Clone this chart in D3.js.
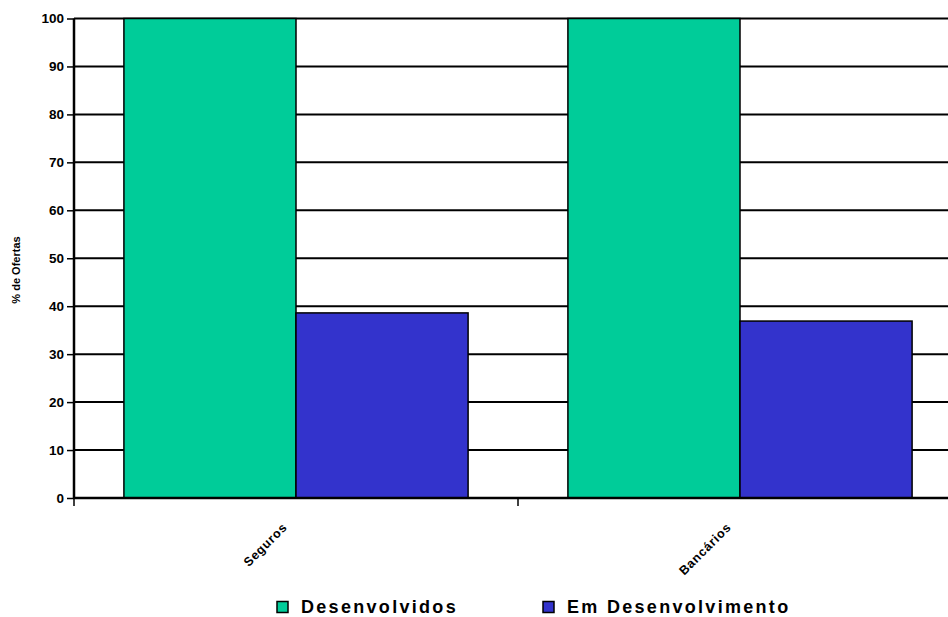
<!DOCTYPE html>
<html>
<head>
<meta charset="utf-8">
<script src="https://cdn.jsdelivr.net/npm/d3@7/dist/d3.min.js"></script>
<style>
  html, body { margin: 0; padding: 0; background: #fff; }
  svg { display: block; font-family: "Liberation Sans", Arial, sans-serif; }
</style>
</head>
<body>
<svg id="chart" width="948" height="617"></svg>
<script>
// Share of offers by sector, developed vs developing countries
const categories = ["Seguros", "Bancários"];
const seriesNames = ["Desenvolvidos", "Em Desenvolvimento"];
const desenvolvidos = [100, 100];
const emDesenvolvimento = [38.6, 36.9];
const yTicks = [0, 10, 20, 30, 40, 50, 60, 70, 80, 90, 100];
const colors = ["#00CC99", "#3333CC"];

const svg = d3.select("#chart");
const plot = { left: 74, right: 962, top: 18.5, bottom: 498 };

const x = d3.scaleBand().domain(categories).range([plot.left, plot.right]).padding(0);
const xs = d3.scaleBand().domain(seriesNames).range([0, x.bandwidth()])
  .paddingInner(0).paddingOuter(0.29);
const y = d3.scaleLinear().domain([0, 100]).range([plot.bottom, plot.top]);

// horizontal gridlines
svg.append("g").selectAll("line").data(yTicks.filter(d => d > 0)).join("line")
  .attr("x1", plot.left).attr("x2", plot.right)
  .attr("y1", d => y(d)).attr("y2", d => y(d))
  .attr("stroke", "#000").attr("stroke-width", 2);

// bars
const rows = categories.map((c, i) => ({ cat: c, vals: [desenvolvidos[i], emDesenvolvimento[i]] }));
const groups = svg.append("g").selectAll("g").data(rows).join("g")
  .attr("transform", d => `translate(${x(d.cat)},0)`);
groups.selectAll("rect").data(d => d.vals.map((v, j) => ({ name: seriesNames[j], v, j })))
  .join("rect")
  .attr("x", d => xs(d.name)).attr("width", xs.bandwidth())
  .attr("y", d => y(d.v)).attr("height", d => y(0) - y(d.v))
  .attr("fill", d => colors[d.j]).attr("stroke", "#000").attr("stroke-width", 1.5);

// y axis
const yAxis = svg.append("g").attr("transform", `translate(${plot.left},0)`)
  .call(d3.axisLeft(y).tickValues(yTicks).tickSize(7).tickPadding(3).tickFormat(d3.format("d")));
yAxis.select(".domain").attr("stroke", "#000").attr("stroke-width", 2.5)
  .attr("d", `M0,${plot.top}V${plot.bottom}`);
yAxis.selectAll(".tick line").attr("stroke", "#000").attr("stroke-width", 1.5);
yAxis.selectAll(".tick text").attr("font-size", 13.5).attr("font-weight", "bold")
  .attr("fill", "#000").attr("font-family", "Liberation Sans, Arial, sans-serif");

// x axis
const xAxis = svg.append("g").attr("transform", `translate(0,${plot.bottom})`);
xAxis.append("line").attr("x1", plot.left - 1).attr("x2", plot.right)
  .attr("y1", 0).attr("y2", 0).attr("stroke", "#000").attr("stroke-width", 2.5);
xAxis.selectAll("line.tick").data(categories).join("line").attr("class", "tick")
  .attr("x1", d => x(d)).attr("x2", d => x(d)).attr("y1", 0).attr("y2", 8)
  .attr("stroke", "#000").attr("stroke-width", 1.5);

// rotated category labels
xAxis.selectAll("text").data(categories).join("text")
  .attr("transform", d => `translate(${x(d) + x.bandwidth() / 2 - 8},${30}) rotate(-45)`)
  .attr("text-anchor", "end").attr("font-size", 12.5).attr("font-weight", "bold")
  .attr("letter-spacing", 0.8)
  .text(d => d);

// y axis title
svg.append("text")
  .attr("transform", `translate(20,${270}) rotate(-90)`)
  .attr("text-anchor", "middle").attr("font-size", 11).attr("font-weight", "bold")
  .text("% de Ofertas");

// legend
const legendX = [277, 543];
const legend = svg.append("g").selectAll("g").data(seriesNames).join("g")
  .attr("transform", (d, i) => `translate(${legendX[i]},601.5)`);
legend.append("rect").attr("width", 11).attr("height", 11)
  .attr("fill", (d, i) => colors[i]).attr("stroke", "#000").attr("stroke-width", 1.5);
legend.append("text").attr("x", 24).attr("y", 11.5)
  .attr("font-size", 18).attr("font-weight", "bold").attr("letter-spacing", 2.3)
  .text(d => d);
</script>
</body>
</html>
